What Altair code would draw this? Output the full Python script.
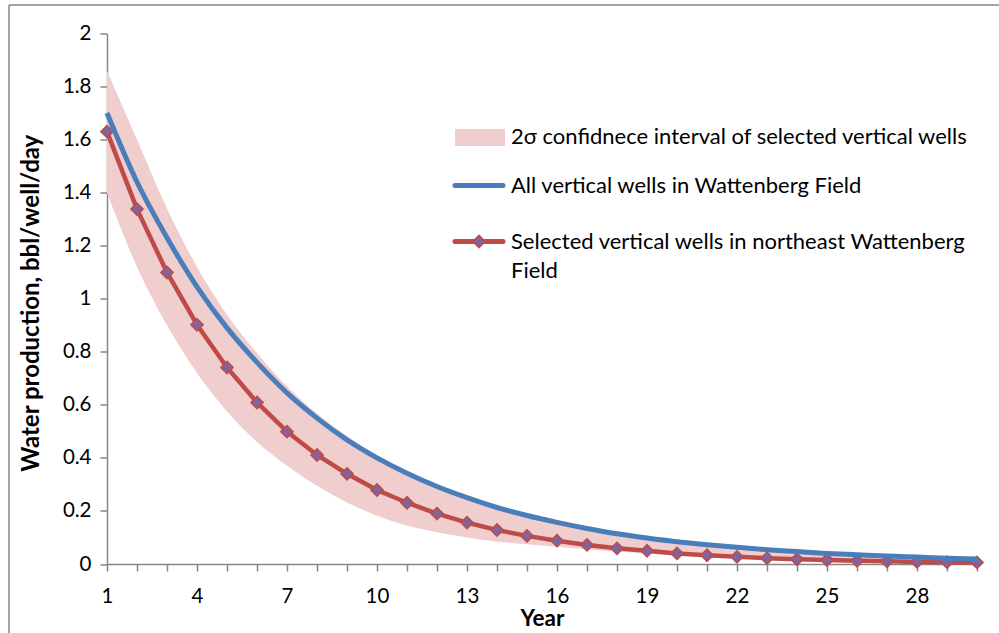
import altair as alt
import pandas as pd

# Decline curves, water production in bbl/well/day by year
years = list(range(1, 31))
selected_wells = [1.63, 1.338, 1.099, 0.902, 0.741, 0.609, 0.499, 0.411, 0.340, 0.279,
                  0.231, 0.190, 0.156, 0.128, 0.106, 0.088, 0.072, 0.059, 0.050, 0.040,
                  0.033, 0.027, 0.022, 0.018, 0.015, 0.012, 0.010, 0.008, 0.007, 0.006]
all_wells = [1.70, 1.44, 1.23, 1.045, 0.89, 0.76, 0.645, 0.55, 0.468, 0.40,
             0.342, 0.292, 0.25, 0.213, 0.183, 0.157, 0.134, 0.114, 0.098, 0.084,
             0.073, 0.063, 0.054, 0.047, 0.040, 0.035, 0.030, 0.026, 0.022, 0.019]
band_upper = [1.86, 1.60, 1.34, 1.12, 0.94, 0.795, 0.67, 0.567, 0.482, 0.41,
              0.348, 0.297, 0.254, 0.216, 0.185, 0.159, 0.136, 0.116, 0.099, 0.085,
              0.074, 0.064, 0.055, 0.047, 0.040, 0.035, 0.030, 0.026, 0.022, 0.019]
band_lower = [1.40, 1.12, 0.90, 0.72, 0.575, 0.46, 0.37, 0.295, 0.232, 0.182,
              0.145, 0.12, 0.10, 0.085, 0.074, 0.065, 0.055, 0.047, 0.040, 0.033,
              0.027, 0.022, 0.018, 0.015, 0.012, 0.010, 0.008, 0.006, 0.005, 0.004]

legend_labels = [
    "2σ confidnece interval of selected vertical wells",
    "All vertical wells in Wattenberg Field",
    "Selected vertical wells in northeast Wattenberg",
    "Field",
]
legend_rows = [103.5, 152, 208, 237]

y_ticks = [0, 0.2, 0.4, 0.6, 0.8, 1, 1.2, 1.4, 1.6, 1.8, 2]

FONT = "Lato"
BLUE = "#4A7EBB"
RED = "#BE4B48"
PURPLE = "#7F64A0"
PINK = "#F0CECE"
GRAY = "#868686"

df = pd.DataFrame({
    "year": years,
    "selected": selected_wells,
    "all": all_wells,
    "upper": band_upper,
    "lower": band_lower,
})

W, H = 870, 530.5

x_scale = alt.Scale(domain=[1, 30], nice=False)
y_scale = alt.Scale(domain=[0, 2], nice=False)

x_axis = alt.Axis(
    title="Year", values=years, grid=False,
    labelExpr="(datum.value - 1) % 3 == 0 ? datum.label : ''",
    labelFont=FONT, labelFontSize=20.5, labelColor="#000", labelPadding=15,
    labelFlush=False, labelOverlap=False,
    titleFont=FONT, titleFontSize=22.5, titleFontWeight="bold", titleColor="#000",
    titleY=61, titleBaseline="alphabetic",
    domainColor=GRAY, domainWidth=1.5, tickColor=GRAY, tickWidth=1.5, tickSize=7,
)
y_axis = alt.Axis(
    title="Water production, bbl/well/day", values=y_ticks, format="~g", grid=False,
    labelFont=FONT, labelFontSize=20.5, labelColor="#000", labelPadding=9,
    labelFlush=False, labelOverlap=False,
    titleFont=FONT, titleFontSize=24, titleFontWeight="bold", titleColor="#000",
    titleX=-76, titleY=H / 2 + 4, titleAngle=-90, titleAlign="center",
    titleBaseline="middle",
    domainColor=GRAY, domainWidth=1.5, tickColor=GRAY, tickWidth=1.5, tickSize=7,
)

X = alt.X("year:Q", scale=x_scale, axis=x_axis)

base = alt.Chart(df)

band = base.mark_area(color=PINK, interpolate="monotone").encode(
    x=X,
    y=alt.Y("lower:Q", scale=y_scale, axis=y_axis),
    y2="upper:Q",
)

selected_line = base.mark_line(
    color=RED, strokeWidth=4.5,
    point=alt.OverlayMarkDef(shape="diamond", size=150, filled=True,
                             fill=PURPLE, stroke=RED, strokeWidth=1.5, opacity=1),
).encode(x=X, y=alt.Y("selected:Q", scale=y_scale, axis=y_axis))

all_line = base.mark_line(color=BLUE, strokeWidth=5, interpolate="monotone").encode(
    x=X, y=alt.Y("all:Q", scale=y_scale, axis=y_axis)
)

# Chart-area frame (top and left edges)
one = alt.Chart(pd.DataFrame({"k": [0]}))
frame_top = one.mark_rule(color=GRAY, strokeWidth=1.5).encode(
    x=alt.value(-98), x2=alt.value(W + 30), y=alt.value(-28.5)
)
frame_left = one.mark_rule(color=GRAY, strokeWidth=1.5).encode(
    x=alt.value(-98), y=alt.value(-28.5), y2=alt.value(H + 80)
)

# Legend drawn inside the plot area
leg_swatch = one.mark_rect(color=PINK).encode(
    x=alt.value(348), x2=alt.value(398), y=alt.value(95.5), y2=alt.value(112.5)
)
leg_blue = one.mark_rule(color=BLUE, strokeWidth=5, strokeCap="round").encode(
    x=alt.value(348), x2=alt.value(396), y=alt.value(152)
)
leg_red = one.mark_rule(color=RED, strokeWidth=5, strokeCap="round").encode(
    x=alt.value(348), x2=alt.value(396), y=alt.value(208)
)
leg_diamond = one.mark_point(shape="diamond", size=150, filled=True, fill=PURPLE,
                             stroke=RED, strokeWidth=1.5, opacity=1).encode(
    x=alt.value(372), y=alt.value(208)
)
leg_texts = [
    one.mark_text(align="left", baseline="middle", font=FONT, fontSize=22,
                  color="#000", text=label).encode(x=alt.value(404), y=alt.value(row))
    for label, row in zip(legend_labels, legend_rows)
]

chart = alt.layer(
    frame_top, frame_left, band, selected_line, all_line,
    leg_swatch, leg_blue, leg_red, leg_diamond, *leg_texts,
).properties(
    width=W, height=H,
    autosize=alt.AutoSizeParams(type="none"),
    padding={"left": 107, "top": 33.5, "right": 22, "bottom": 69},
    background="white",
).configure_view(stroke=None).configure_axisX(labelOverlap=False)

chart.save("out.html", embed_options={"renderer": "svg", "actions": False})
